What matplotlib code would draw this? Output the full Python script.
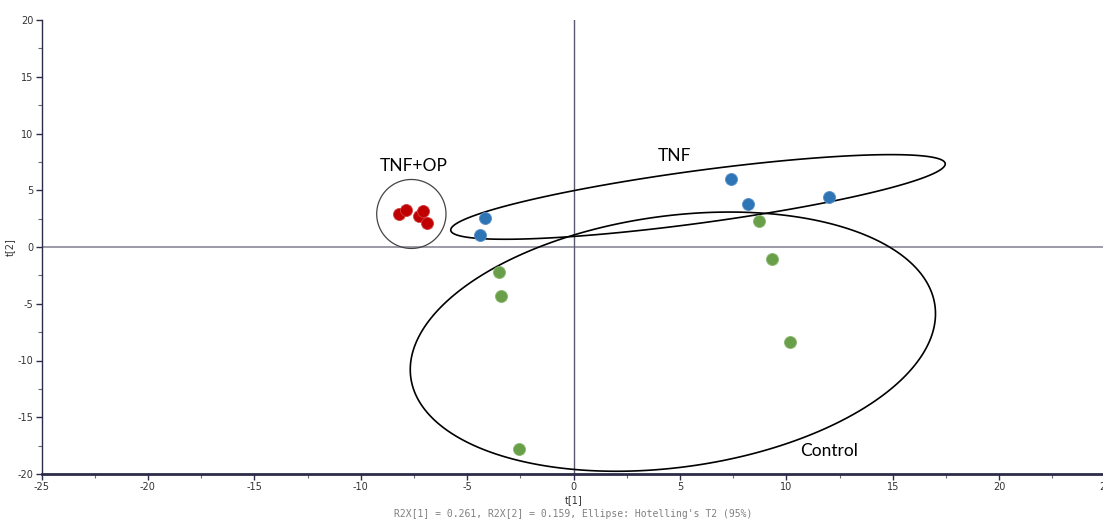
import numpy as np
import matplotlib.pyplot as plt
from matplotlib.patches import Polygon

plt.rcParams['axes.unicode_minus'] = False

# score values t[1], t[2]
op_t1 = [-8.22, -7.86, -7.25, -7.09, -6.88]
op_t2 = [2.91, 3.26, 2.73, 3.17, 2.14]
tnf_t1 = [-4.14, -4.38, 7.39, 8.20, 12.0]
tnf_t2 = [2.55, 1.06, 5.99, 3.79, 4.38]
ctrl_t1 = [-3.52, -3.39, -2.57, 8.74, 9.32, 10.16]
ctrl_t2 = [-2.23, -4.29, -17.8, 2.29, -1.03, -8.41]

# hand drawn group ellipses: centre and shape matrix (data units)
op_center = [-7.62, 2.91]
op_shape = [[2.65, 0.0], [0.0, 9.23]]
tnf_center = [5.85, 4.41]
tnf_shape = [[135.0, 33.8], [33.8, 13.9]]
ctrl_center = [4.67, -8.34]
ctrl_shape = [[152.3, 30.4], [30.4, 130.4]]

x_ticks = [-25, -20, -15, -10, -5, 0, 5, 10, 15, 20, 25]
y_ticks = [-20, -15, -10, -5, 0, 5, 10, 15, 20]
footnote = "R2X[1] = 0.261, R2X[2] = 0.159, Ellipse: Hotelling's T2 (95%)"


def ellipse(center, shape, n=300):
    t = np.linspace(0, 2 * np.pi, n, endpoint=False)
    L = np.linalg.cholesky(np.array(shape))
    pts = L @ np.vstack([np.cos(t), np.sin(t)])
    return np.column_stack([pts[0] + center[0], pts[1] + center[1]])


fig = plt.figure(figsize=(11.03, 5.21), dpi=100)
ax = fig.add_axes([41.5 / 1103, 47 / 521, 1064 / 1103, 454 / 521])
ax.set_xlim(-25, 25)
ax.set_ylim(-20, 20)

axis_col = '#2b2b4a'
ax.axhline(0, color='#8a8a9a', lw=1.2, zorder=1)
ax.axvline(0, color='#5a5a70', lw=1.0, zorder=1)

ax.add_patch(Polygon(ellipse(op_center, op_shape), closed=True, fill=False,
                     edgecolor='#444444', lw=0.9, zorder=2))
ax.add_patch(Polygon(ellipse(tnf_center, tnf_shape), closed=True, fill=False,
                     edgecolor='black', lw=1.2, zorder=2))
ax.add_patch(Polygon(ellipse(ctrl_center, ctrl_shape), closed=True, fill=False,
                     edgecolor='black', lw=1.2, zorder=2))

ax.scatter(op_t1, op_t2, s=75, color='#c00000', edgecolors='#d04040', lw=0.6, zorder=3)
ax.scatter(tnf_t1, tnf_t2, s=75, color='#2e75b6', edgecolors='#5a90c8', lw=0.6, zorder=3)
ax.scatter(ctrl_t1, ctrl_t2, s=75, color='#6a9f4a', edgecolors='#8ab870', lw=0.6, zorder=3)

ax.text(-7.5, 7.1, 'TNF+OP', fontsize=12.5, family='Lato', ha='center', va='center')
ax.text(4.75, 8.0, 'TNF', fontsize=12.5, family='Lato', ha='center', va='center')
ax.text(12.0, -18.0, 'Control', fontsize=12.5, family='Lato', ha='center', va='center')

for s in ['top', 'right']:
    ax.spines[s].set_visible(False)
ax.spines['left'].set_color(axis_col)
ax.spines['left'].set_linewidth(1.0)
ax.spines['bottom'].set_color(axis_col)
ax.spines['bottom'].set_linewidth(2.0)

ax.set_xticks(x_ticks)
ax.set_yticks(y_ticks)
ax.set_xticks(np.arange(-22.5, 25, 5), minor=True)
ax.set_yticks(np.arange(-17.5, 20, 5), minor=True)
ax.tick_params(which='major', length=4, width=1, color=axis_col, labelsize=7, labelcolor='#333333', pad=2)
ax.tick_params(which='minor', length=3, width=0.8, color='#666677')

ax.set_xlabel('t[1]', fontsize=7, color='#333333', labelpad=2)
ax.set_ylabel('t[2]', fontsize=7, color='#333333')
ax.yaxis.set_label_coords(-0.025, 0.5)
fig.text(573 / 1103, 1 - 514 / 521, footnote, fontsize=7, family='DejaVu Sans Mono',
         color='#808080', ha='center', va='center')

fig.savefig('out.png', dpi=100)
